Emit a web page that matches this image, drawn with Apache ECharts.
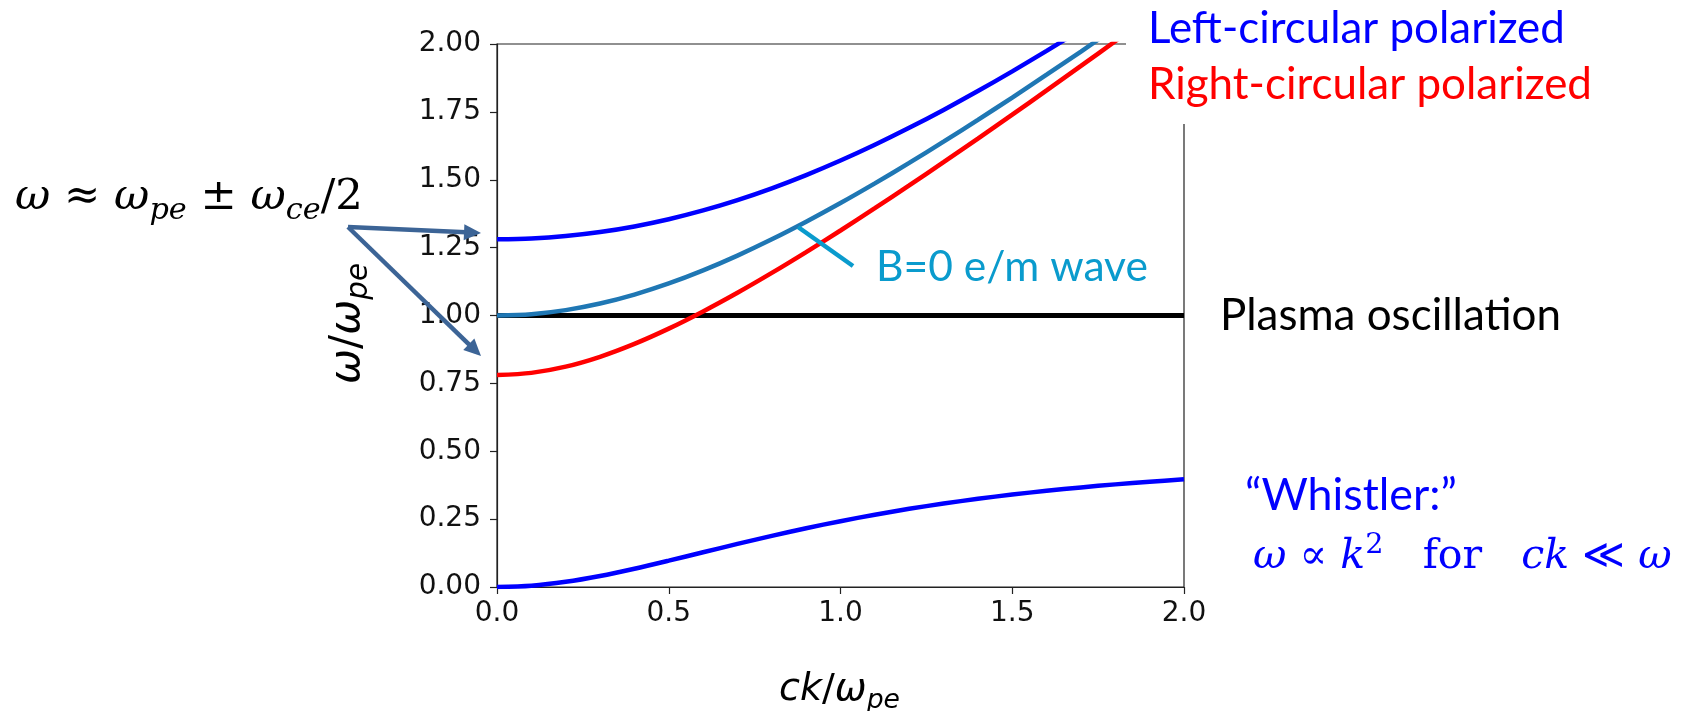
<!DOCTYPE html>
<html><head><meta charset="utf-8">
<script src="https://cdn.jsdelivr.net/npm/echarts@6/dist/echarts.min.js"></script>
<style>html,body{margin:0;padding:0;background:#fff}#c{width:1688px;height:711px}</style>
</head><body><div id="c"></div>
<script>
// ---- data ----
const kValues      = [0.0,0.1,0.2,0.3,0.4,0.5,0.6,0.7,0.8,0.9,1.0,1.1,1.2,1.3,1.4,1.5,1.6,1.7,1.8,1.9,2.0];
const leftCircular = [1.2808,1.2838,1.2926,1.3074,1.3281,1.3546,1.3870,1.4250,1.4684,1.5171,1.5707,1.6288,1.6911,1.7572,1.8267,1.8993,1.9746,2.0523,2.1322,2.2140,2.2974];
const rightCircular= [0.7808,0.7887,0.8117,0.8480,0.8954,0.9516,1.0149,1.0836,1.1568,1.2335,1.3131,1.3951,1.4790,1.5646,1.6515,1.7398,1.8290,1.9192,2.0102,2.1019,2.1942];
const vacuumWave   = [1.0000,1.0050,1.0198,1.0440,1.0770,1.1180,1.1662,1.2207,1.2806,1.3454,1.4142,1.4866,1.5620,1.6401,1.7205,1.8028,1.8868,1.9723,2.0591,2.1471,2.2361];
const whistler     = [0.0000,0.0049,0.0191,0.0406,0.0673,0.0970,0.1279,0.1587,0.1884,0.2164,0.2424,0.2663,0.2879,0.3074,0.3248,0.3405,0.3544,0.3669,0.3780,0.3879,0.3967];
const plasmaOsc    = [1,1,1,1,1,1,1,1,1,1,1,1,1,1,1,1,1,1,1,1,1];
const xTickStep = 0.5, yTickStep = 0.25;

const pairs = ys => kValues.map((k,i)=>[k, ys[i]]);

// ---- text measuring helpers ----
const mctx = document.createElement('canvas').getContext('2d');
function fontOf(r, size){ return (r.it?'italic ':'normal ') + 'normal ' + size + 'px ' + r.fam; }
function widthOf(t, f){ mctx.font = f; mctx.textBaseline='alphabetic'; return mctx.measureText(t).width; }
function baseOff(f){
  mctx.font = f; mctx.textBaseline='alphabetic';
  const a = mctx.measureText('Hg').fontBoundingBoxAscent;
  mctx.textBaseline='middle';
  const b = mctx.measureText('Hg').fontBoundingBoxAscent;
  mctx.textBaseline='alphabetic';
  return a - b;
}
// compose a run of text pieces, scaled so the whole run has width targetW
function runText(list, x0, base, targetW, color, z){
  let w = 0; list.forEach(r => { w += widthOf(r.t, fontOf(r, 100*(r.rel||1))); });
  const s = 100 * targetW / w;
  const els = []; let x = x0;
  list.forEach(r => {
    const size = s*(r.rel||1); const f = fontOf(r, size);
    els.push({type:'text', x:x, y: base + (r.dy||0)*s - baseOff(f), z: z||100,
      style:{text:r.t, fontSize:size, fontFamily:r.fam, fontStyle:r.it?'italic':'normal',
             fill:color, align:'left', verticalAlign:'middle'}});
    x += widthOf(r.t, f);
  });
  return els;
}
function arrow(x1,y1,x2,y2,color,w,hl,hw){
  const dx=x2-x1, dy=y2-y1, L=Math.hypot(dx,dy), ux=dx/L, uy=dy/L;
  const bx=x2-ux*hl, by=y2-uy*hl;
  return [
    {type:'line', z:100, shape:{x1:x1,y1:y1,x2:bx+ux*2,y2:by+uy*2}, style:{stroke:color, lineWidth:w}},
    {type:'polygon', z:100, shape:{points:[[x2,y2],[bx-uy*hw,by+ux*hw],[bx+uy*hw,by-ux*hw]]}, style:{fill:color}}
  ];
}

const SANS = 'Lato', MATH = '"DejaVu Serif"', MPL = '"DejaVu Sans"';
const graphics = [];
// white box of the legend text covering the top-right frame
graphics.push({type:'rect', z:90, shape:{x:1126,y:0,width:562,height:124}, style:{fill:'#fff'}});
graphics.push(...runText([{t:'Left-circular polarized', fam:SANS}], 1148, 43, 417, '#0000FF'));
graphics.push(...runText([{t:'Right-circular polarized', fam:SANS}], 1148, 99, 444, '#FF0000'));
graphics.push(...runText([{t:'Plasma oscillation', fam:SANS}], 1220, 330, 341, '#000000'));
graphics.push(...runText([{t:'B=0 e/m wave', fam:SANS}], 876, 281, 272, '#0A9BCD'));
graphics.push({type:'line', z:100, shape:{x1:798,y1:227,x2:853,y2:266}, style:{stroke:'#0A9BCD', lineWidth:4.5}});
graphics.push(...runText([{t:'\u201CWhistler:\u201D', fam:SANS}], 1245, 510, 212, '#0000FF'));
graphics.push(...runText([
  {t:'\u03C9', fam:MATH, it:true}, {t:' \u221D ', fam:MATH}, {t:'k', fam:MATH, it:true},
  {t:'2', fam:MATH, rel:0.7, dy:-0.36}, {t:'   for   ', fam:MATH},
  {t:'ck', fam:MATH, it:true}, {t:' \u226A ', fam:MATH}, {t:'\u03C9', fam:MATH, it:true}
], 1253, 568, 419, '#0000FF'));
graphics.push(...runText([
  {t:'\u03C9', fam:MATH, it:true}, {t:' \u2248 ', fam:MATH}, {t:'\u03C9', fam:MATH, it:true},
  {t:'pe', fam:MATH, it:true, rel:0.7, dy:0.22}, {t:' \u00B1 ', fam:MATH}, {t:'\u03C9', fam:MATH, it:true},
  {t:'ce', fam:MATH, it:true, rel:0.7, dy:0.22}, {t:'/2', fam:MATH}
], 15, 209, 348, '#000000'));
graphics.push(...arrow(348,227,481,233,'#3C6496',4.5,17,8));
graphics.push(...arrow(348,227,481,356,'#3C6496',4.5,17,8));
// axis titles (matplotlib mathtext look)
graphics.push(...runText([
  {t:'ck', fam:MPL, it:true}, {t:'/', fam:MPL}, {t:'\u03C9', fam:MPL, it:true},
  {t:'pe', fam:MPL, it:true, rel:0.7, dy:0.2}
], 779, 700, 121, '#000000'));
const yTitle = runText([
  {t:'\u03C9', fam:MPL, it:true}, {t:'/', fam:MPL}, {t:'\u03C9', fam:MPL, it:true},
  {t:'pe', fam:MPL, it:true, rel:0.7, dy:0.2}
], 0, 0, 121, '#000000');
graphics.push({type:'group', x:359, y:384, rotation:Math.PI/2, children:yTitle});

const lineSeries = (name, ys, color, w) => ({
  name:name, type:'line', data:pairs(ys), showSymbol:false, smooth:0.3,
  lineStyle:{color:color, width:w}, itemStyle:{color:color}, clip:true, silent:true
});

const chart = echarts.init(document.getElementById('c'), null, {renderer:'canvas'});
chart.setOption({
  animation:false,
  backgroundColor:'#ffffff',
  grid:{left:497, top:44, width:687, height:543, show:true, borderColor:'#222', borderWidth:1.2, containLabel:false},
  xAxis:{type:'value', min:0, max:2, interval:xTickStep,
    axisLine:{show:true, lineStyle:{color:'#222', width:1.2}},
    axisTick:{show:true, inside:false, length:7, lineStyle:{color:'#222', width:1.2}},
    axisLabel:{fontSize:28, fontFamily:MPL, color:'#111', margin:13, formatter:v=>v.toFixed(1)},
    splitLine:{show:false}},
  yAxis:{type:'value', min:0, max:2, interval:yTickStep,
    axisLine:{show:true, lineStyle:{color:'#222', width:1.2}},
    axisTick:{show:true, inside:false, length:7, lineStyle:{color:'#222', width:1.2}},
    axisLabel:{fontSize:28, fontFamily:MPL, color:'#111', margin:16, formatter:v=>v.toFixed(2)},
    splitLine:{show:false}},
  series:[
    lineSeries('Plasma oscillation', plasmaOsc, '#000000', 5),
    lineSeries('B=0 e/m wave', vacuumWave, '#1F77B4', 4.5),
    lineSeries('Right-circular', rightCircular, '#FF0000', 4.5),
    lineSeries('Left-circular', leftCircular, '#0000FF', 4.5),
    lineSeries('Whistler', whistler, '#0000FF', 4.5)
  ],
  graphic:{elements:graphics}
});
</script></body></html>
